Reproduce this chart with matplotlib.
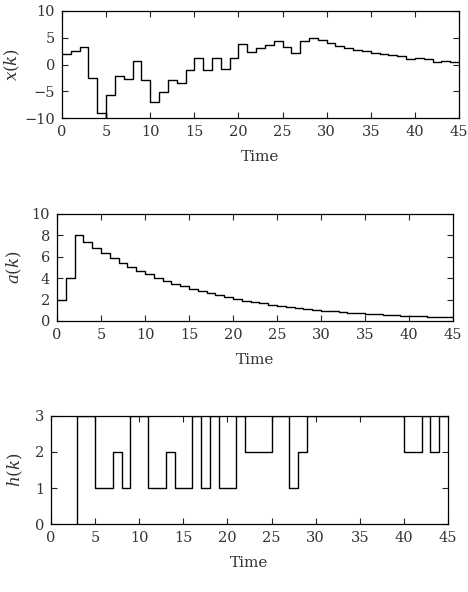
import numpy as np
import matplotlib
matplotlib.use('Agg')
import matplotlib.pyplot as plt

plt.rcParams['font.family'] = 'DejaVu Serif'
plt.rcParams['mathtext.fontset'] = 'dejavuserif'
plt.rcParams['font.size'] = 10.5

# x(k): value held on each interval [k, k+1)
x_time = [0, 1, 2, 3, 4, 5, 5, 6, 7, 8, 9, 10, 11, 12, 13, 14, 15, 16, 17, 18, 19,
          20, 21, 22, 23, 24, 25, 26, 27, 28, 29, 30, 31, 32, 33, 34, 35, 36, 37,
          38, 39, 40, 41, 42, 43, 44, 45]
x_vals = [2.0, 2.6, 3.2, -2.6, -9.0, -10.5, -5.7, -2.1, -2.7, 0.6, -2.9, -7.0, -5.2,
          -2.9, -3.5, -1.1, 1.3, -1.0, 1.3, -0.9, 1.2, 3.9, 2.4, 3.0, 3.6, 4.3, 3.2,
          2.2, 4.4, 5.0, 4.6, 4.0, 3.5, 3.1, 2.7, 2.5, 2.2, 2.0, 1.8, 1.6, 1.1, 1.2,
          1.1, 0.5, 0.7, 0.5, 0.5]

# a(k)
a_time = list(range(0, 46))
a_vals = [2.0, 4.0, 8.0, 7.4, 6.85, 6.35, 5.9, 5.45, 5.05, 4.7, 4.35, 4.05, 3.75,
          3.5, 3.25, 3.0, 2.8, 2.6, 2.4, 2.2, 2.05, 1.9, 1.77, 1.65, 1.53, 1.42,
          1.32, 1.22, 1.14, 1.06, 0.98, 0.91, 0.85, 0.79, 0.73, 0.68, 0.63, 0.59,
          0.55, 0.51, 0.47, 0.44, 0.41, 0.38, 0.35, 0.35]

# h(k), starts at k=3 from zero
h_time = [3, 3, 5, 7, 8, 9, 11, 13, 14, 16, 17, 18, 19, 21, 22, 25, 27, 28, 29,
          40, 42, 43, 44, 45]
h_vals = [0, 3, 1, 2, 1, 3, 1, 2, 1, 3, 1, 3, 1, 3, 2, 3, 1, 2, 3, 2, 3, 2, 3, 3]

W, H = 468, 592
fig = plt.figure(figsize=(W / 100, H / 100), dpi=100)


def make_axes(left, top, right, bottom):
    return fig.add_axes([left / W, 1 - bottom / H, (right - left) / W, (bottom - top) / H])


def style(ax, ylim, yticks, ylabel, ylab_x):
    ax.set_xlim(0, 45)
    ax.set_ylim(*ylim)
    ax.set_xticks(np.arange(0, 46, 5))
    ax.set_yticks(yticks)
    ax.tick_params(direction='in', top=True, right=True, length=4, width=0.8, pad=5,
                   colors='#222222', labelcolor='#333333')
    ax.set_xlabel('Time', fontsize=11, color='#333333')
    ax.xaxis.set_label_coords(0.5, -0.295)
    ax.set_ylabel(ylabel, fontsize=12, color='#333333')
    ax.yaxis.set_label_coords(ylab_x, 0.5)
    for s in ax.spines.values():
        s.set_linewidth(0.9)


ax1 = make_axes(62, 11, 459, 118)
ax1.plot(x_time, x_vals, drawstyle='steps-post', color='black', lw=1.0, clip_on=True)
style(ax1, (-10, 10), [-10, -5, 0, 5, 10], r'$x(k)$', -0.1)

ax2 = make_axes(57, 214, 453, 321)
ax2.plot(a_time, a_vals, drawstyle='steps-post', color='black', lw=1.0)
style(ax2, (0, 10), [0, 2, 4, 6, 8, 10], r'$a(k)$', -0.083)

ax3 = make_axes(51, 416, 448, 524)
ax3.plot(h_time, h_vals, drawstyle='steps-post', color='black', lw=1.0)
style(ax3, (0, 3), [0, 1, 2, 3], r'$h(k)$', -0.065)

fig.savefig('out.png', dpi=100)
